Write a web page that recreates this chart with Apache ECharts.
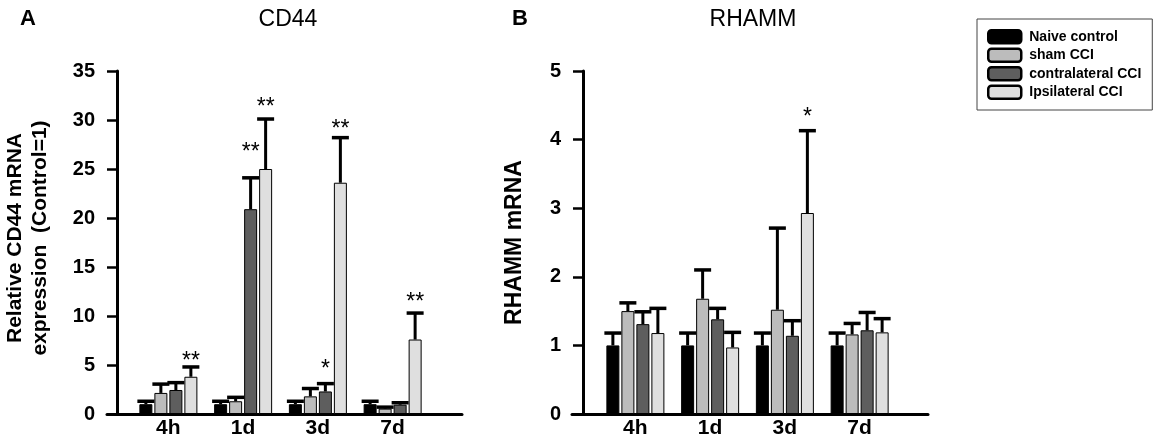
<!DOCTYPE html>
<html>
<head>
<meta charset="utf-8">
<script src="https://cdn.jsdelivr.net/npm/echarts@6/dist/echarts.min.js"></script>
<style>
  html, body { margin: 0; padding: 0; background: #fff; }
  #chart { width: 1158px; height: 442px; }
</style>
</head>
<body>
<div id="chart"></div>
<script>
var timePoints = ["4h", "1d", "3d", "7d"];
var groupNames = ["Naive control", "sham CCI", "contralateral CCI", "Ipsilateral CCI"];
var groupColors = ["#000000", "#bcbcbc", "#5e5e5e", "#dfdfdf"];

// CD44 - one row per group, one column per time point
var cd44Means = [
  [1, 1, 1, 1],
  [2.15, 1.3, 1.8, 0.55],
  [2.45, 20.9, 2.3, 0.95],
  [3.8, 25.0, 23.6, 7.6]
];
var cd44Errors = [
  [0.3, 0.3, 0.3, 0.3],
  [0.9, 0.4, 0.8, 0.15],
  [0.75, 3.2, 0.8, 0.2],
  [1.0, 5.1, 4.6, 2.7]
];
// [time point, group, text, height]
var cd44Stars = [
  [0, 3, "**", 5.85],
  [1, 2, "**", 27.2],
  [1, 3, "**", 31.8],
  [2, 2, "*", 5.0],
  [2, 3, "**", 29.5],
  [3, 3, "**", 11.9]
];
var cd44Axis = [0, 35, 5];

// RHAMM
var rhammMeans = [
  [1, 1, 1, 1],
  [1.5, 1.68, 1.52, 1.16],
  [1.31, 1.38, 1.14, 1.22],
  [1.18, 0.97, 2.93, 1.19]
];
var rhammErrors = [
  [0.18, 0.18, 0.18, 0.18],
  [0.12, 0.42, 1.19, 0.16],
  [0.18, 0.16, 0.22, 0.26],
  [0.36, 0.22, 1.2, 0.2]
];
var rhammStars = [
  [2, 3, "*", 4.39]
];
var rhammAxis = [0, 5, 1];

var FONT = "Liberation Sans, Arial, sans-serif";
var BAR_W = 13;
var BAR_PITCH = 15;
var STAR_SIZE = 23;

function barSeries(means, idx) {
  return means.map(function(row, g) {
    return {
      name: groupNames[g],
      type: "bar",
      xAxisIndex: idx,
      yAxisIndex: idx,
      barWidth: BAR_W,
      barGap: ((BAR_PITCH - BAR_W) / BAR_W * 100) + "%",
      itemStyle: { color: groupColors[g], borderColor: "#000", borderWidth: 1 },
      data: row
    };
  });
}

function errorSeries(means, errors, idx) {
  var data = [];
  means.forEach(function(row, g) {
    row.forEach(function(v, c) {
      data.push([c, g, v, v + errors[g][c]]);
    });
  });
  return {
    type: "custom",
    xAxisIndex: idx,
    yAxisIndex: idx,
    z: 5,
    encode: { x: 0, y: 3 },
    renderItem: function(params, api) {
      var c = api.value(0);
      var g = api.value(1);
      var base = api.coord([c, api.value(2)]);
      var tip = api.coord([c, api.value(3)]);
      var x = base[0] + (g - 1.5) * BAR_PITCH;
      return {
        type: "group",
        children: [
          { type: "line", shape: { x1: x, y1: base[1], x2: x, y2: tip[1] }, style: { stroke: "#000", lineWidth: 3 } },
          { type: "line", shape: { x1: x - 8.5, y1: tip[1], x2: x + 8.5, y2: tip[1] }, style: { stroke: "#000", lineWidth: 3.5 } }
        ]
      };
    },
    data: data
  };
}

function starSeries(stars, idx) {
  return {
    type: "custom",
    xAxisIndex: idx,
    yAxisIndex: idx,
    z: 6,
    encode: { x: 0, y: 3 },
    renderItem: function(params, api) {
      var s = stars[params.dataIndex];
      var p = api.coord([s[0], s[3]]);
      return {
        type: "text",
        x: p[0] + (s[1] - 1.5) * BAR_PITCH,
        y: p[1] + STAR_SIZE * 0.22,
        style: {
          text: s[2],
          fill: "#000",
          font: STAR_SIZE + "px " + FONT,
          textAlign: "center",
          textVerticalAlign: "middle",
          align: "center",
          verticalAlign: "middle"
        }
      };
    },
    data: stars.map(function(s) { return [s[0], s[1], 0, s[3]]; })
  };
}

function mainX(idx) {
  return {
    type: "category",
    gridIndex: idx,
    data: timePoints,
    axisLine: { show: false },
    axisTick: { show: false },
    axisLabel: { color: "#000", fontFamily: FONT, fontWeight: "bold", fontSize: 21, margin: 4 },
    splitLine: { show: false }
  };
}

function mainY(idx, range, name, gap, size, offset, shift) {
  return {
    type: "value",
    gridIndex: idx,
    min: range[0],
    max: range[1],
    interval: range[2],
    offset: offset,
    name: name,
    nameLocation: "middle",
    nameRotate: 90,
    nameGap: gap,
    nameTextStyle: {
      color: "#000", fontFamily: FONT, fontWeight: "bold", fontSize: size, lineHeight: 25,
      padding: [0, 0, 0, shift]
    },
    axisLine: { show: true, lineStyle: { color: "#000", width: 3 } },
    axisTick: { show: true, inside: false, length: 10, lineStyle: { color: "#000", width: 2.5 } },
    axisLabel: { color: "#000", fontFamily: FONT, fontWeight: "bold", fontSize: 20, margin: 22 },
    splitLine: { show: false }
  };
}

// plain axis line that runs a bit wider than the bars
function lineX(idx) {
  return {
    type: "value",
    gridIndex: idx,
    min: 0,
    max: 1,
    axisLine: { show: true, lineStyle: { color: "#000", width: 3 } },
    axisTick: { show: false },
    axisLabel: { show: false },
    splitLine: { show: false }
  };
}

function lineY(idx) {
  return { type: "value", gridIndex: idx, show: false, min: 0, max: 1, splitLine: { show: false } };
}

function titleItem(text, left, bold) {
  return {
    text: text,
    left: left,
    top: 8,
    padding: 0,
    textAlign: bold ? "left" : "center",
    textStyle: { color: "#000", fontFamily: FONT, fontWeight: bold ? "bold" : "normal", fontSize: bold ? 22 : 23 }
  };
}

var option = {
  animation: false,
  backgroundColor: "#fff",
  title: [
    titleItem("A", 20, true),
    titleItem("CD44", 288, false),
    titleItem("B", 512, true),
    titleItem("RHAMM", 753, false)
  ],
  legend: {
    data: groupNames,
    orient: "vertical",
    left: 977,
    top: 19,
    padding: [10, 11, 10, 10],
    itemWidth: 33,
    itemHeight: 13,
    itemGap: 3,
    icon: "roundRect",
    selectedMode: false,
    backgroundColor: "#fff",
    borderColor: "#444",
    borderWidth: 1,
    borderRadius: 0,
    itemStyle: { borderColor: "#000", borderWidth: 2.5 },
    textStyle: { color: "#000", fontFamily: FONT, fontWeight: "bold", fontSize: 14, lineHeight: 14, padding: [0, 0, 0, 3] }
  },
  grid: [
    { left: 131, top: 71, width: 299, height: 343, outerBoundsMode: "none" },
    { left: 598, top: 71, width: 299, height: 343, outerBoundsMode: "none" },
    { left: 107, top: 71, width: 355, height: 343, outerBoundsMode: "none" },
    { left: 572, top: 71, width: 356, height: 343, outerBoundsMode: "none" }
  ],
  xAxis: [mainX(0), mainX(1), lineX(2), lineX(3)],
  yAxis: [
    mainY(0, cd44Axis, "Relative CD44 mRNA\nexpression  (Control=1)", 64, 21, 14, 9),
    mainY(1, rhammAxis, "RHAMM mRNA", 56, 23, 15, 0),
    lineY(2),
    lineY(3)
  ],
  series: []
    .concat(barSeries(cd44Means, 0))
    .concat([errorSeries(cd44Means, cd44Errors, 0), starSeries(cd44Stars, 0)])
    .concat(barSeries(rhammMeans, 1))
    .concat([errorSeries(rhammMeans, rhammErrors, 1), starSeries(rhammStars, 1)])
};

var myChart = echarts.init(document.getElementById("chart"));
myChart.setOption(option);
</script>
</body>
</html>
